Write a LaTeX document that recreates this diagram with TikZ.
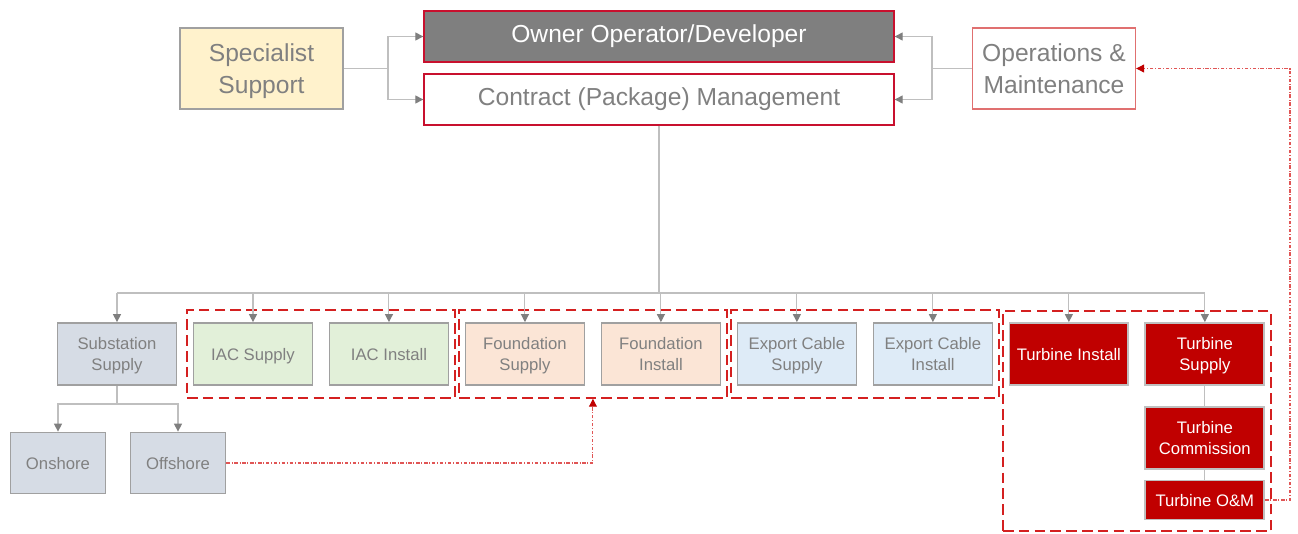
\documentclass[tikz,border=0pt]{standalone}
\usepackage{fontspec}
\setmainfont{Liberation Sans}
\usepackage{xcolor}
\usetikzlibrary{arrows.meta, positioning, fit}

\definecolor{txtgray}{HTML}{808080}
\definecolor{linegray}{HTML}{BFBFBF}
\definecolor{tipgray}{HTML}{7F7F7F}
\definecolor{boxgray}{HTML}{A0A0A0}
\definecolor{ownerfill}{HTML}{7F7F7F}
\definecolor{topred}{HTML}{C8102E}
\definecolor{softred}{HTML}{E07070}
\definecolor{groupred}{HTML}{D42020}
\definecolor{dotred}{HTML}{E05555}
\definecolor{specfill}{HTML}{FFF2CC}
\definecolor{subfill}{HTML}{D6DCE5}
\definecolor{iacfill}{HTML}{E2F0D9}
\definecolor{fndfill}{HTML}{FBE5D6}
\definecolor{expfill}{HTML}{DEEBF7}
\definecolor{turbfill}{HTML}{C00000}

\begin{document}
\begin{tikzpicture}[
  x=0.02cm, y=-0.02cm,
  topbox/.style={draw=topred, line width=0.8pt, minimum width=9.4cm, minimum height=1.02cm,
    font=\fontsize{14}{18}\selectfont, text=txtgray},
  sidebox/.style={draw=boxgray, line width=0.8pt, minimum width=3.26cm, minimum height=1.62cm,
    align=center, font=\fontsize{14}{18}\selectfont, text=txtgray, text depth=0pt},
  pkg/.style={draw=boxgray, line width=1pt, minimum width=2.38cm, minimum height=1.24cm,
    align=center, inner sep=1pt, font=\fontsize{9.5}{12}\selectfont, text=txtgray,
    text depth=0pt},
  turb/.style={pkg, fill=turbfill, draw=linegray, text=white},
  group/.style={draw=groupred, line width=1.1pt, dash pattern=on 6pt off 3pt,
    inner xsep=0.11cm, inner ysep=0.24cm},
  link/.style={draw=linegray, line width=0.6pt},
  arr/.style={-{Triangle[length=4.5pt, width=4.5pt, color=tipgray]}},
  feedback/.style={draw=dotred, line width=0.6pt, dash pattern=on 2pt off 1pt on 0.5pt off 1pt,
    -{Triangle[length=4.5pt, width=4.5pt, color=turbfill]}}
]
\useasboundingbox (0,0) rectangle (1298,534);

% TOP LEVEL
\node[topbox, fill=ownerfill, text=white] (owner) at (659,36.5) {Owner Operator/Developer};
\node[topbox, fill=white] (contract) at (659,99.5) {Contract (Package) Management};
\node[sidebox, fill=specfill] (spec) at (261.5,68.5) {Specialist\\Support};
\node[sidebox, draw=softred, fill=white] (om) at (1054,68.5) {Operations \&\\Maintenance};

% Side connections
\coordinate (sj) at (388,68.5);
\coordinate (oj) at (932,68.5);
\draw[link] (spec) -- (sj);
\draw[link, arr] (sj) |- (owner.west);
\draw[link, arr] (sj) |- (contract.west);
\draw[link] (om) -- (oj);
\draw[link, arr] (oj) |- (owner.east);
\draw[link, arr] (oj) |- (contract.east);

% PACKAGES
\node[pkg, fill=subfill] (subsup) at (117,354) {Substation\\Supply};
\node[pkg, fill=iacfill, right=0.305cm of subsup] (iacsup) {IAC Supply};
\node[pkg, fill=iacfill, right=0.305cm of iacsup] (iacins) {IAC Install};
\node[pkg, fill=fndfill, right=0.305cm of iacins] (fndsup) {Foundation\\Supply};
\node[pkg, fill=fndfill, right=0.305cm of fndsup] (fndins) {Foundation\\Install};
\node[pkg, fill=expfill, right=0.305cm of fndins] (expsup) {Export Cable\\Supply};
\node[pkg, fill=expfill, right=0.305cm of expsup] (expins) {Export Cable\\Install};
\node[turb, right=0.305cm of expins] (tins) {Turbine Install};
\node[turb, right=0.305cm of tins] (tsup) {Turbine\\Supply};
\node[turb, below=0.4cm of tsup] (tcom) {Turbine\\Commission};
\node[turb, minimum height=0.78cm, below=0.2cm of tcom] (tom) {Turbine O\&M};

% Substation split
\node[pkg, fill=subfill, minimum width=1.9cm, minimum height=1.22cm] (onshore) at (58,463) {Onshore};
\node[pkg, fill=subfill, minimum width=1.9cm, minimum height=1.22cm] (offshore) at (178,463) {Offshore};

% Package groups
\node[group, fit=(iacsup)(iacins)] (iacgrp) {};
\node[group, fit=(fndsup)(fndins)] (fndgrp) {};
\node[group, fit=(expsup)(expins)] (expgrp) {};
\node[group, fit=(tins)(tom), inner ysep=0.22cm] (turbgrp) {};

% Distribution bus
\coordinate (bus) at (659,293);
\draw[link] (contract.south) -- (bus);
\draw[link] (subsup.north |- bus) -- (tsup.north |- bus);
\foreach \pk in {subsup, iacsup, iacins, fndsup, fndins, expsup, expins, tins, tsup}
  \draw[link, arr] (\pk.north |- bus) -- (\pk.north);

\coordinate (ssj) at (117,404);
\draw[link] (subsup) -- (ssj);
\draw[link, arr] (ssj) -| (onshore.north);
\draw[link, arr] (ssj) -| (offshore.north);

% Turbine chain
\draw[link] (tsup) -- (tcom);
\draw[link] (tcom) -- (tom);

% Interfaces
\coordinate (ret) at (1290,0);
\draw[feedback] (offshore.east) -| (fndgrp.south);
\draw[feedback] (tom.east) -- (tom.east -| ret) -- (ret |- om.east) -- (om.east);

\end{tikzpicture}
\end{document}
